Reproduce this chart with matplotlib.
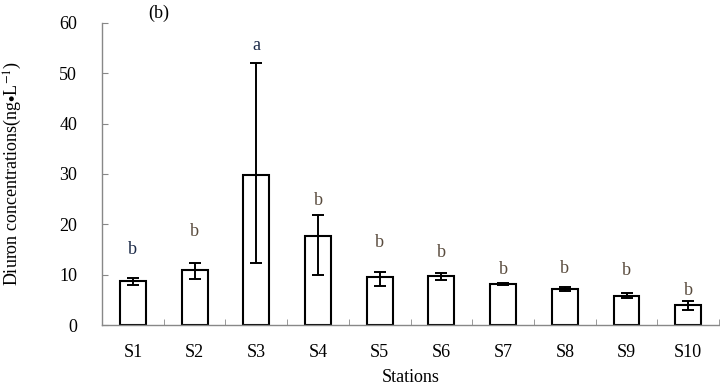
import matplotlib.pyplot as plt

stations = ["S1", "S2", "S3", "S4", "S5", "S6", "S7", "S8", "S9", "S10"]
conc = [8.7, 10.9, 29.8, 17.6, 9.5, 9.8, 8.15, 7.2, 5.8, 4.0]
err_low = [0.7, 1.7, 17.4, 7.6, 1.8, 0.9, 0.2, 0.4, 0.5, 1.0]
err_high = [0.6, 1.5, 22.2, 4.2, 1.1, 0.5, 0.2, 0.4, 0.5, 0.8]
letters = ["b", "b", "a", "b", "b", "b", "b", "b", "b", "b"]
letter_y = [15.0, 18.5, 55.6, 24.8, 16.3, 14.4, 11.0, 11.3, 10.8, 6.8]
letter_col = ["#1c2a48", "#5a4c3e", "#1c2a48", "#5a4c3e", "#5a4c3e",
              "#5a4c3e", "#5a4c3e", "#5a4c3e", "#5a4c3e", "#5a4c3e"]

plt.rcParams['font.family'] = ['Liberation Serif', 'DejaVu Serif']
plt.rcParams['mathtext.fontset'] = 'stix'

fig = plt.figure(figsize=(7.2, 3.89), dpi=100)
ax = fig.add_axes([0.1417, 0.1645, 0.857, 0.7765])

x = list(range(len(stations)))
ax.bar(x, conc, width=0.42, color="white", edgecolor="black", linewidth=1.5,
       yerr=[err_low, err_high], capsize=4.5,
       error_kw=dict(elinewidth=1.4, capthick=1.4, ecolor="black"), zorder=2)

for xi, t, ly, c in zip(x, letters, letter_y, letter_col):
    ax.text(xi, ly, t, ha="center", va="center", fontsize=13, color=c)

ax.set_xlim(-0.5, 9.5)
ax.set_ylim(0, 60)
ax.set_yticks(range(0, 61, 10))
ax.set_xticks(x)
ax.set_xticklabels(stations)
ax.set_xticks([i + 0.5 for i in range(10)], minor=True)
ax.tick_params(axis="x", which="major", length=0, pad=14, labelsize=13)
ax.tick_params(axis="x", which="minor", length=4, direction="in", color="#888888")
ax.tick_params(axis="y", direction="in", length=4, color="#888888", labelsize=13, pad=18)

for s in ["top", "right"]:
    ax.spines[s].set_visible(False)
for s in ["left", "bottom"]:
    ax.spines[s].set_color("#888888")
    ax.spines[s].set_linewidth(1.0)

ax.set_xlabel("Stations", fontsize=13)
ax.xaxis.set_label_coords(0.5, -0.145)
ax.set_ylabel(r"Diuron concentrations(ng$\bullet$L$^{-1}$)", fontsize=13)
ax.yaxis.set_label_coords(-0.127, 0.5)
fig.text(0.22, 0.965, "(b)", ha="center", va="center", fontsize=13)

plt.savefig("out.png", dpi=100)
